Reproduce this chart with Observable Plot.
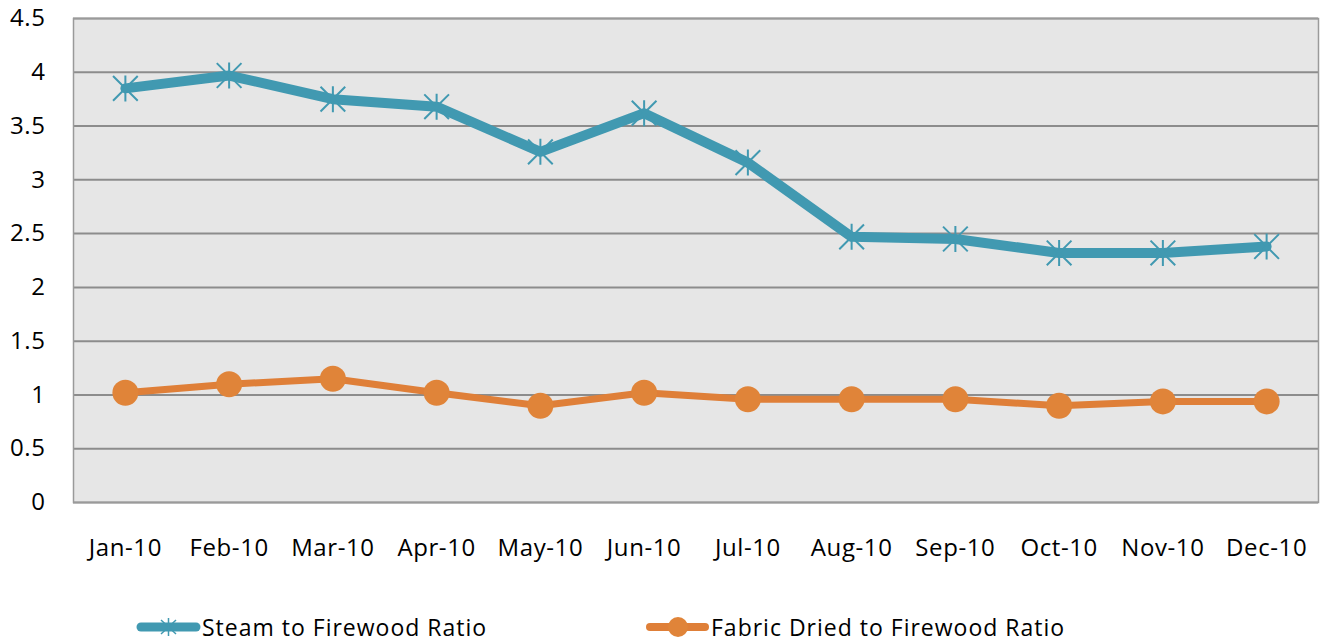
<!DOCTYPE html>
<html>
<head>
<meta charset="utf-8">
<script src="https://cdn.jsdelivr.net/npm/d3@7"></script>
<script src="https://cdn.jsdelivr.net/npm/@observablehq/plot@0.6"></script>
<style>
  html, body { margin: 0; padding: 0; background: #fff; }
  body { width: 1327px; height: 644px; overflow: hidden; font-family: "Open Sans", "Noto Sans", sans-serif; }
  #legend { position: absolute; left: 0; top: 612px; width: 1327px; height: 30px; font-size: 23px; color: #000; letter-spacing: 1px; }
  .item { position: absolute; top: 0; display: flex; align-items: center; height: 30px; }
  .item svg { display: block; }
  #chart svg text { letter-spacing: 0.6px; }
</style>
</head>
<body>
<div id="chart"></div>
<div id="legend"></div>
<script>
const months = ["Jan-10","Feb-10","Mar-10","Apr-10","May-10","Jun-10","Jul-10","Aug-10","Sep-10","Oct-10","Nov-10","Dec-10"];
const steam = [3.85, 3.97, 3.75, 3.68, 3.26, 3.62, 3.16, 2.47, 2.45, 2.32, 2.32, 2.38];
const fabric = [1.02, 1.10, 1.15, 1.02, 0.90, 1.02, 0.96, 0.96, 0.96, 0.90, 0.94, 0.94];
const yTicks = [0, 0.5, 1, 1.5, 2, 2.5, 3, 3.5, 4, 4.5];
const seriesNames = ["Steam to Firewood Ratio", "Fabric Dried to Firewood Ratio"];

const steamColor = "#4199b1";
const fabricColor = "#df7f38";

const steamData = months.map((m, i) => ({month: m, value: steam[i]}));
const fabricData = months.map((m, i) => ({month: m, value: fabric[i]}));

// Excel-style star marker: an X plus a vertical stroke
const star = {
  draw(ctx, size) {
    const r = Math.sqrt(size / Math.PI);
    const d = r * 0.95;
    ctx.moveTo(0, -r); ctx.lineTo(0, r);
    ctx.moveTo(-d, -d); ctx.lineTo(d, d);
    ctx.moveTo(-d, d); ctx.lineTo(d, -d);
  }
};

const chart = Plot.plot({
  width: 1327,
  height: 590,
  marginLeft: 73,
  marginRight: 9,
  marginTop: 18,
  marginBottom: 88,
  style: {fontFamily: "'Open Sans', 'Noto Sans', sans-serif", fontSize: "24px", color: "#000", background: "#fff"},
  x: {type: "point", domain: months, padding: 0.5, round: false, label: null, tickSize: 0, tickPadding: 36},
  y: {domain: [0, 4.5], ticks: yTicks, label: null, tickSize: 0, tickPadding: 28, tickFormat: d => String(d)},
  marks: [
    Plot.frame({fill: "#e6e6e6", stroke: "none"}),
    Plot.gridY(yTicks, {stroke: "#8c8c8c", strokeOpacity: 1, strokeWidth: 2}),
    Plot.frame({stroke: "#9a9a9a", strokeWidth: 1.5}),
    Plot.line(steamData, {x: "month", y: "value", stroke: steamColor, strokeWidth: 10}),
    Plot.dot(steamData, {x: "month", y: "value", symbol: star, r: 13, stroke: steamColor, strokeWidth: 2}),
    Plot.line(fabricData, {x: "month", y: "value", stroke: fabricColor, strokeWidth: 7}),
    Plot.dot(fabricData, {x: "month", y: "value", symbol: "circle", r: 13, fill: "#e08439", stroke: "none"})
  ]
});
document.getElementById("chart").appendChild(chart);

const legend = document.getElementById("legend");
const items = [
  {name: seriesNames[0], color: steamColor, left: 136, marker: "star"},
  {name: seriesNames[1], color: fabricColor, left: 645, marker: "circle"}
];
for (const it of items) {
  const div = document.createElement("div");
  div.className = "item";
  div.style.left = it.left + "px";
  const ns = "http://www.w3.org/2000/svg";
  const svg = document.createElementNS(ns, "svg");
  svg.setAttribute("width", 66);
  svg.setAttribute("height", 30);
  const line = document.createElementNS(ns, "line");
  line.setAttribute("x1", 5); line.setAttribute("x2", 60);
  line.setAttribute("y1", 15); line.setAttribute("y2", 15);
  line.setAttribute("stroke", it.color);
  line.setAttribute("stroke-width", it.marker === "star" ? 9 : 8);
  line.setAttribute("stroke-linecap", "round");
  svg.appendChild(line);
  if (it.marker === "star") {
    const p = document.createElementNS(ns, "path");
    p.setAttribute("d", "M32.5,6V24M25,8L40,22M40,8L25,22");
    p.setAttribute("stroke", it.color);
    p.setAttribute("stroke-width", 1.5);
    svg.appendChild(p);
  } else {
    const c = document.createElementNS(ns, "circle");
    c.setAttribute("cx", 33); c.setAttribute("cy", 15); c.setAttribute("r", 10);
    c.setAttribute("fill", "#e08439");
    svg.appendChild(c);
  }
  div.appendChild(svg);
  const span = document.createElement("span");
  span.textContent = it.name;
  div.appendChild(span);
  legend.appendChild(div);
}
</script>
</body>
</html>
